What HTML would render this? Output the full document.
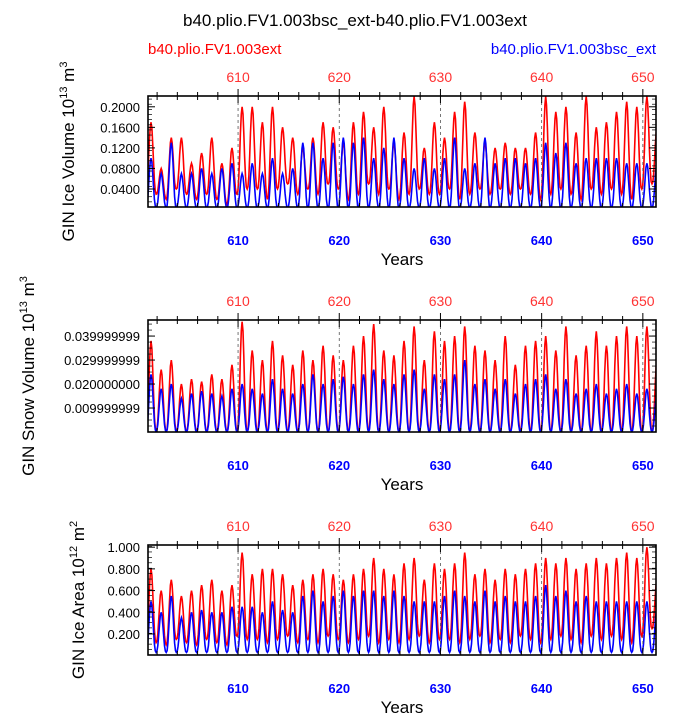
<!DOCTYPE html>
<html><head><meta charset="utf-8"><style>
body{margin:0;background:#fff;font-family:"Liberation Sans",sans-serif}
svg text{font-family:"Liberation Sans",sans-serif}
</style></head><body>
<svg id="c" width="700" height="713" xmlns="http://www.w3.org/2000/svg">
<text x="355" y="26" font-size="17" text-anchor="middle">b40.plio.FV1.003bsc_ext-b40.plio.FV1.003ext</text>
<text x="148" y="54" font-size="15" fill="#f00">b40.plio.FV1.003ext</text>
<text x="656" y="54" font-size="15" fill="#00f" text-anchor="end">b40.plio.FV1.003bsc_ext</text>
</svg>
<script>
const years=[601,602,603,604,605,606,607,608,609,610,611,612,613,614,615,616,617,618,619,620,621,622,623,624,625,626,627,628,629,630,631,632,633,634,635,636,637,638,639,640,641,642,643,644,645,646,647,648,649,650,651];
const iceRedPeak=[0.17,0.08,0.14,0.14,0.09,0.11,0.14,0.09,0.12,0.20,0.20,0.17,0.20,0.16,0.14,0.12,0.14,0.17,0.16,0.13,0.17,0.19,0.16,0.20,0.13,0.15,0.22,0.12,0.17,0.14,0.19,0.21,0.15,0.13,0.12,0.13,0.12,0.12,0.15,0.22,0.19,0.20,0.15,0.22,0.16,0.17,0.19,0.21,0.20,0.22,0.16];
const iceRedLow=[0.05,0.03,0.02,0.04,0.03,0.02,0.03,0.02,0.01,0.03,0.04,0.04,0.02,0.04,0.05,0.03,0.04,0.03,0.05,0.04,0.02,0.03,0.05,0.03,0.04,0.02,0.03,0.04,0.03,0.03,0.04,0.02,0.03,0.04,0.03,0.04,0.03,0.04,0.03,0.02,0.03,0.04,0.03,0.02,0.04,0.03,0.04,0.03,0.02,0.04,0.05];
const iceBluePeak=[0.10,0.07,0.13,0.07,0.07,0.08,0.07,0.08,0.09,0.07,0.09,0.07,0.10,0.07,0.08,0.13,0.13,0.10,0.13,0.14,0.13,0.14,0.10,0.12,0.14,0.10,0.08,0.10,0.08,0.10,0.14,0.08,0.09,0.14,0.09,0.10,0.10,0.09,0.10,0.13,0.11,0.13,0.09,0.10,0.10,0.10,0.10,0.09,0.09,0.09,0.09];
const snowRedPeak=[0.038,0.026,0.030,0.020,0.022,0.021,0.024,0.022,0.028,0.046,0.034,0.030,0.038,0.032,0.028,0.034,0.030,0.036,0.032,0.030,0.036,0.040,0.045,0.034,0.032,0.038,0.044,0.030,0.042,0.038,0.040,0.044,0.036,0.034,0.030,0.040,0.028,0.036,0.038,0.040,0.034,0.044,0.032,0.036,0.042,0.036,0.040,0.044,0.040,0.044,0.030];
const snowBluePeak=[0.024,0.018,0.020,0.014,0.016,0.017,0.016,0.015,0.018,0.020,0.018,0.016,0.022,0.018,0.016,0.020,0.024,0.020,0.022,0.023,0.020,0.024,0.026,0.022,0.020,0.024,0.026,0.018,0.024,0.022,0.024,0.030,0.020,0.022,0.018,0.022,0.016,0.020,0.022,0.024,0.018,0.022,0.016,0.018,0.020,0.016,0.018,0.020,0.016,0.018,0.016];
const areaRedPeak=[0.80,0.60,0.70,0.55,0.60,0.65,0.70,0.60,0.65,0.95,0.75,0.80,0.80,0.75,0.65,0.70,0.75,0.80,0.75,0.70,0.75,0.80,0.90,0.80,0.75,0.85,0.90,0.70,0.85,0.80,0.85,0.95,0.75,0.80,0.70,0.80,0.75,0.80,0.85,0.90,0.85,0.90,0.80,0.85,0.90,0.85,0.90,0.95,0.90,1.00,0.70];
const areaRedLow=[0.15,0.12,0.10,0.15,0.12,0.10,0.15,0.12,0.10,0.18,0.15,0.15,0.12,0.15,0.18,0.12,0.15,0.12,0.18,0.15,0.12,0.15,0.18,0.12,0.15,0.12,0.15,0.18,0.12,0.15,0.15,0.12,0.15,0.18,0.12,0.15,0.12,0.18,0.15,0.12,0.15,0.18,0.15,0.12,0.18,0.15,0.18,0.15,0.12,0.18,0.25];
const areaBluePeak=[0.50,0.40,0.55,0.35,0.40,0.42,0.40,0.40,0.45,0.45,0.45,0.40,0.50,0.42,0.40,0.55,0.60,0.50,0.55,0.60,0.55,0.60,0.60,0.55,0.60,0.55,0.50,0.50,0.50,0.55,0.60,0.55,0.50,0.60,0.50,0.55,0.50,0.50,0.55,0.65,0.55,0.60,0.50,0.55,0.50,0.50,0.50,0.50,0.50,0.50,0.45];
const NS="http://www.w3.org/2000/svg";
const svg=document.getElementById('c');
function el(t,a,p){const e=document.createElementNS(NS,t);for(const k in a)e.setAttribute(k,a[k]);(p||svg).appendChild(e);return e;}
const X0=148,X1=656,Y0=601.1,Y1=651.3;
const xs=y=>X0+(y-Y0)/(Y1-Y0)*(X1-X0);
function panel(p){
  const g=el('g',{});
  
  
  const ys=v=>p.bot-(v-p.vmin)/(p.vmax-p.vmin)*(p.bot-p.top);
  const clip=el('clipPath',{id:'cl'+p.top},g);
  el('rect',{x:X0,y:p.top,width:X1-X0,height:p.bot-p.top},clip);
  [[p.red,p.redLow,'#f00','red-series'],[p.blue,p.blueLow,'#00f','blue-series']].forEach(([pk,lo,col,nm])=>{
    let d='';
    for(let i=0;i<years.length;i++){
      const hi=pk[i],l0=Array.isArray(lo)?lo[i]:lo,l1=Array.isArray(lo)?lo[Math.min(i+1,lo.length-1)]:lo;
      for(let m=0;m<12;m++){
        const f=m/12;const c=(1-Math.cos(2*Math.PI*f))/2;const base=l0+(l1-l0)*f;
        const v=base+(hi-base)*Math.pow(c,1.3);
        const xx=xs(years[i]-0.1+f),yy=ys(v);
        d+=(d?'L':'M')+xx.toFixed(1)+','+yy.toFixed(1);
      }
    }
    const path=el('path',{d:d,fill:'none',stroke:col,'stroke-width':1.6,'clip-path':'url(#cl'+p.top+')'},g);
    
    
  });
  for(let y=610;y<=650;y+=10){
    el('line',{x1:xs(y),x2:xs(y),y1:p.top,y2:p.bot,stroke:'#555','stroke-width':0.8,'stroke-dasharray':'3,3'},g);
    const t=el('text',{x:xs(y),y:p.top-14,'font-size':14,fill:'#f33','text-anchor':'middle'},g);t.textContent=y;
    
    const b=el('text',{x:xs(y),y:p.bot+38,'font-size':13,'font-weight':'bold',fill:'#00f','text-anchor':'middle'},g);b.textContent=y;
    
  }
  for(let y=602;y<=651;y+=2){const L=(y%10==0)?7:4;
    el('line',{x1:xs(y),x2:xs(y),y1:p.top,y2:p.top+L,stroke:'#000','stroke-width':1},g);
    el('line',{x1:xs(y),x2:xs(y),y1:p.bot,y2:p.bot-L,stroke:'#000','stroke-width':1},g);
    el('line',{x1:xs(y),x2:xs(y),y1:p.top,y2:p.top-L,stroke:'#000','stroke-width':1},g);
  }
  p.ticks.forEach((v,i)=>{
    el('line',{x1:X0,x2:X0+7,y1:ys(v),y2:ys(v),stroke:'#000'},g);
    el('line',{x1:X1,x2:X1-7,y1:ys(v),y2:ys(v),stroke:'#000'},g);
    const t=el('text',{x:X0-8,y:ys(v)+5,'font-size':13,'text-anchor':'end'},g);t.textContent=p.labels[i];
    
  });
  for(let v=p.vmin;v<=p.vmax;v+=p.minor){el('line',{x1:X0,x2:X0+4,y1:ys(v),y2:ys(v),stroke:'#000','stroke-width':0.7},g);el('line',{x1:X1,x2:X1-4,y1:ys(v),y2:ys(v),stroke:'#000','stroke-width':0.7},g);}
  el('rect',{x:X0,y:p.top,width:X1-X0,height:p.bot-p.top,fill:'none',stroke:'#000','stroke-width':1.6},g);
  const xt=el('text',{x:(X0+X1)/2,y:p.bot+58,'font-size':17,'text-anchor':'middle'},g);xt.textContent='Years';
  
  const yt=el('text',{x:0,y:0,'font-size':17,'text-anchor':'middle',transform:`translate(${p.ytx},${(p.top+p.bot)/2}) rotate(-90)`},g);
  yt.innerHTML=p.ytitle;
  
}
panel({name:'ice-volume-panel',top:96,bot:207,vmin:0.005,vmax:0.221,red:iceRedPeak,redLow:iceRedLow,blue:iceBluePeak,blueLow:0.004,
 ticks:[0.04,0.08,0.12,0.16,0.2],labels:['0.0400','0.0800','0.1200','0.1600','0.2000'],minor:0.01,ytx:74,
 ytitle:'GIN Ice Volume 10<tspan dy="-7" font-size="11">13</tspan><tspan dy="7"> m</tspan><tspan dy="-7" font-size="11">3</tspan>'});
panel({name:'snow-volume-panel',top:320,bot:432,vmin:0,vmax:0.0467,red:snowRedPeak,redLow:0.0003,blue:snowBluePeak,blueLow:0.0002,
 ticks:[0.01,0.02,0.03,0.04],labels:['0.009999999','0.020000000','0.029999999','0.039999999'],minor:0.0025,ytx:34,
 ytitle:'GIN Snow Volume 10<tspan dy="-7" font-size="11">13</tspan><tspan dy="7"> m</tspan><tspan dy="-7" font-size="11">3</tspan>'});
panel({name:'ice-area-panel',top:545,bot:655,vmin:0.006,vmax:1.02,red:areaRedPeak,redLow:areaRedLow,blue:areaBluePeak,blueLow:0.03,
 ticks:[0.2,0.4,0.6,0.8,1.0],labels:['0.200','0.400','0.600','0.800','1.000'],minor:0.05,ytx:84,
 ytitle:'GIN Ice Area 10<tspan dy="-7" font-size="11">12</tspan><tspan dy="7"> m</tspan><tspan dy="-7" font-size="11">2</tspan>'});
</script>
</body></html>
